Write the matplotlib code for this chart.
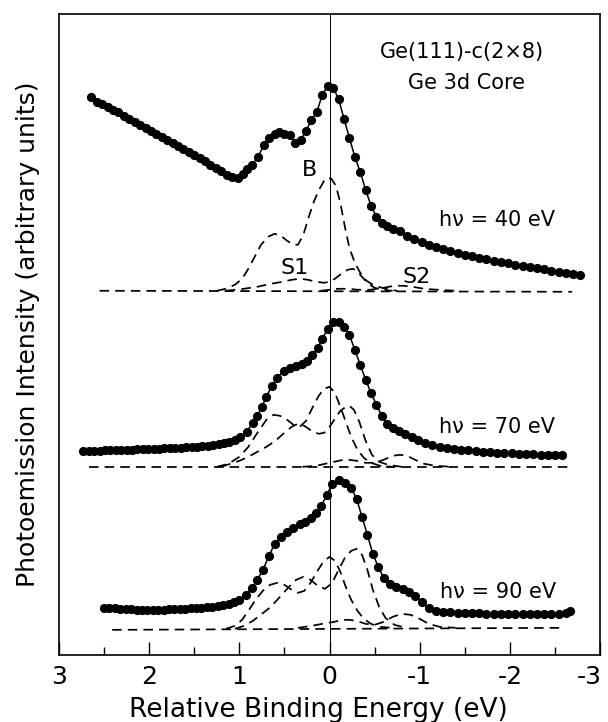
import matplotlib
matplotlib.use("Agg")
import matplotlib.pyplot as plt
import matplotlib.transforms as mtransforms
from matplotlib.ticker import MultipleLocator

plt.rcParams["font.family"] = ["DejaVu Sans"]

# measured spectra (binding energy in eV, intensity in arbitrary units)
x40 = [2.64, 2.58, 2.52, 2.46, 2.40, 2.34, 2.28, 2.22, 2.16, 2.10, 2.04, 1.98, 1.92, 1.86,
       1.80, 1.74, 1.68, 1.62, 1.56, 1.50, 1.44, 1.38, 1.32, 1.26, 1.20, 1.14, 1.08,
       1.02, 0.96, 0.91, 0.86, 0.79, 0.73, 0.67, 0.61, 0.56, 0.50, 0.44, 0.38, 0.32,
       0.26, 0.20, 0.14, 0.08, 0.02,
       -0.04, -0.10, -0.16, -0.22, -0.28, -0.34, -0.40, -0.46, -0.52, -0.58, -0.64, -0.70,
       -0.78, -0.86, -0.94, -1.02, -1.10, -1.18, -1.26, -1.34, -1.42, -1.50, -1.58, -1.66,
       -1.74, -1.82, -1.90, -1.98, -2.06, -2.14, -2.22, -2.30, -2.38, -2.46, -2.54, -2.62,
       -2.70, -2.78]
y40 = [558, 553, 551, 548, 545, 543, 539, 536, 533, 530, 527, 524, 521, 518,
       515, 512, 509, 506, 503, 500, 497, 494, 490, 487, 484, 480, 478,
       477, 481, 486, 490, 498, 510, 517, 521, 523, 521, 520, 512, 515,
       524, 535, 543, 560, 569,
       567, 556, 536, 517, 498, 483, 465, 449, 438, 432, 429, 426,
       424, 419, 416, 413, 410, 408, 406, 404, 402, 400, 399, 397,
       396, 394, 393, 392, 390, 389, 388, 387, 386, 384, 383, 382,
       381, 380]

x70 = [2.73, 2.67, 2.61, 2.55, 2.49, 2.43, 2.37, 2.31, 2.25, 2.19, 2.13, 2.07, 2.01, 1.95,
       1.89, 1.83, 1.77, 1.71, 1.65, 1.59, 1.53, 1.47, 1.41, 1.35, 1.29, 1.23, 1.17, 1.11,
       1.05, 0.99,
       0.92, 0.85, 0.80, 0.75, 0.70, 0.64, 0.58, 0.51, 0.44, 0.37, 0.31, 0.25, 0.19,
       0.13, 0.08, 0.02,
       -0.04, -0.10, -0.16, -0.22, -0.28, -0.34, -0.40, -0.46, -0.52, -0.58, -0.64, -0.70,
       -0.77, -0.84, -0.91, -0.98,
       -1.06, -1.14, -1.22, -1.30, -1.38, -1.46, -1.54, -1.62, -1.70, -1.78, -1.86, -1.94,
       -2.02, -2.10, -2.18, -2.26, -2.34, -2.42, -2.50, -2.58]
y70 = [204, 204, 204, 204, 205, 205, 205, 205, 205, 205, 206, 206, 206, 206,
       206, 207, 207, 207, 207, 208, 208, 208, 209, 209, 210, 211, 212, 213,
       215, 218,
       223, 232, 239, 248, 258, 269, 277, 284, 287, 289, 291, 294, 300,
       307, 316, 326,
       333, 333, 328, 320, 305, 290, 275, 262, 250, 239, 231, 227,
       224, 221, 218, 215,
       212, 210, 208, 207, 206, 205, 205, 204, 203, 203, 202, 202,
       202, 201, 201, 201, 200, 200, 200, 200]

x90 = [2.50, 2.44, 2.38, 2.32, 2.26, 2.20, 2.14, 2.08, 2.02, 1.96, 1.90, 1.84, 1.78,
       1.72, 1.66, 1.60, 1.54, 1.48, 1.42, 1.36, 1.30, 1.24, 1.18, 1.12, 1.06, 1.00,
       0.93, 0.86, 0.80, 0.74, 0.67, 0.61, 0.54, 0.47, 0.40, 0.33, 0.27, 0.21, 0.15,
       0.09, 0.03,
       -0.03, -0.10, -0.17, -0.24, -0.30, -0.36, -0.42, -0.48, -0.54, -0.60, -0.67,
       -0.74, -0.81, -0.88, -0.95, -1.02,
       -1.10, -1.18, -1.26, -1.34, -1.42, -1.50, -1.58, -1.66, -1.74, -1.82, -1.90,
       -1.98, -2.06, -2.14, -2.22, -2.30, -2.38, -2.46, -2.54, -2.62, -2.67]
y90 = [47, 47, 47, 46, 46, 46, 45, 45, 45, 45, 45, 45, 46,
       46, 46, 46, 47, 47, 47, 48, 48, 49, 50, 51, 53, 55,
       60, 67, 75, 85, 99, 111, 118, 123, 127, 131, 133, 137, 142,
       149, 160,
       171, 175, 172, 167, 156, 138, 120, 101, 88, 77, 71,
       68, 66, 63, 59, 53,
       47, 44, 43, 43, 42, 42, 42, 42, 41, 41, 41,
       41, 41, 41, 41, 41, 41, 41, 41, 42, 44]

# fitted components (dashed)
base40_x = [2.55, -2.69]
base40_y = [364, 363]
b40_x = [1.25, 1.15, 1.05, 0.97, 0.90, 0.83, 0.76, 0.68, 0.61, 0.54, 0.47, 0.40, 0.35,
         0.29, 0.23, 0.17, 0.11, 0.06, 0.02, -0.02, -0.07, -0.12, -0.17, -0.22, -0.28,
         -0.34, -0.41, -0.50, -0.62, -0.75]
b40_y = [364, 366, 370, 376, 386, 398, 410, 418, 421, 419, 414, 410, 410,
         420, 438, 454, 466, 474, 477, 476, 469, 452, 428, 407, 392,
         382, 374, 369, 366, 364]
s1_40_x = [1.15, 0.95, 0.80, 0.65, 0.52, 0.42, 0.33, 0.24, 0.15, 0.06, 0.00, -0.06, -0.13,
           -0.20, -0.26, -0.31, -0.37, -0.43, -0.50, -0.58, -0.70]
s1_40_y = [364, 366, 368, 371, 373, 375, 376, 375, 373, 372, 373, 376, 381,
           385, 386, 383, 377, 371, 367, 365, 364]
s2_40_x = [0.10, -0.10, -0.20, -0.32, -0.45, -0.60, -0.72, -0.82, -0.92, -1.05, -1.20, -1.40]
s2_40_y = [364, 366, 366, 365, 365, 367, 369, 369, 368, 366, 365, 364]

base70_x = [2.67, -2.69]
base70_y = [188, 188]
b70_x = [1.25, 1.12, 1.00, 0.90, 0.80, 0.70, 0.62, 0.55, 0.47, 0.40, 0.33, 0.26, 0.19,
         0.12, 0.06, 0.00, -0.06, -0.12, -0.18, -0.24, -0.31, -0.38, -0.46, -0.56, -0.70]
b70_y = [188, 191, 198, 208, 222, 235, 240, 239, 235, 230, 228, 234, 247,
         259, 266, 268, 262, 248, 233, 218, 205, 197, 192, 189, 188]
s1_70_x = [1.20, 1.10, 1.00, 0.90, 0.80, 0.70, 0.60, 0.50, 0.42, 0.35, 0.28, 0.20, 0.12,
           0.06, 0.00, -0.06, -0.12, -0.18, -0.22, -0.27, -0.33, -0.40, -0.47, -0.55,
           -0.65, -0.80]
s1_70_y = [188, 191, 194, 198, 203, 208, 214, 222, 228, 231, 229, 224, 221,
           222, 228, 236, 244, 248, 249, 245, 233, 214, 200, 193,
           190, 188]
s2_70_x = [0.30, 0.15, 0.05, -0.05, -0.15, -0.22, -0.30, -0.40, -0.50, -0.60, -0.70, -0.78,
           -0.86, -0.95, -1.05, -1.18, -1.35]
s2_70_y = [188, 189, 191, 193, 195, 195, 194, 192, 192, 195, 199, 200,
           199, 195, 191, 189, 188]

base90_x = [2.41, -2.57]
base90_y = [25, 27]
b90_x = [1.15, 1.05, 0.97, 0.90, 0.82, 0.74, 0.66, 0.58, 0.50, 0.42, 0.35, 0.28, 0.21,
         0.14, 0.07, 0.00, -0.06, -0.12, -0.18, -0.24, -0.31, -0.38, -0.46, -0.56, -0.70]
b90_y = [26, 29, 35, 44, 55, 64, 70, 72, 70, 65, 62, 64, 72,
         83, 93, 98, 94, 83, 68, 55, 44, 36, 31, 28, 27]
s1_90_x = [1.05, 0.95, 0.85, 0.75, 0.65, 0.55, 0.45, 0.37, 0.29, 0.21, 0.13, 0.05, -0.03,
           -0.10, -0.17, -0.24, -0.30, -0.36, -0.42, -0.48, -0.55, -0.62, -0.72, -0.85]
s1_90_y = [26, 29, 34, 41, 48, 58, 68, 75, 78, 75, 69, 66, 72,
           85, 97, 104, 106, 100, 85, 65, 48, 37, 30, 27]
s2_90_x = [0.35, 0.20, 0.08, -0.05, -0.15, -0.22, -0.30, -0.40, -0.50, -0.60, -0.70, -0.80,
           -0.90, -1.00, -1.10, -1.22, -1.40]
s2_90_y = [27, 29, 31, 33, 35, 35, 34, 31, 30, 33, 38, 41,
           40, 36, 31, 28, 27]

tick_pos = [-3, -2, -1, 0, 1, 2, 3]
tick_lbl = ["-3", "-2", "-1", "0", "1", "2", "3"]

spectra = [(x40, y40), (x70, y70), (x90, y90)]
components = [
    (base40_x, base40_y), (b40_x, b40_y), (s1_40_x, s1_40_y), (s2_40_x, s2_40_y),
    (base70_x, base70_y), (b70_x, b70_y), (s1_70_x, s1_70_y), (s2_70_x, s2_70_y),
    (base90_x, base90_y), (b90_x, b90_y), (s1_90_x, s1_90_y), (s2_90_x, s2_90_y),
]

fig = plt.figure(figsize=(6.08, 7.22), dpi=100)
ax = fig.add_axes([0.097, 0.093, 0.890, 0.888])

for xs, ys in components:
    ax.plot(xs, ys, color="black", lw=1.25, linestyle=(0, (5.5, 3.5)))

for xs, ys in spectra:
    ax.plot(xs, ys, color="black", lw=1.1, marker="o", markersize=5.6)

ax.axvline(0, color="black", lw=0.7)

ax.set_xlim(3, -3)
ax.set_ylim(0, 641)
ax.set_yticks([])
ax.set_xticks(tick_pos)
ax.set_xticklabels(tick_lbl)
ax.xaxis.set_minor_locator(MultipleLocator(0.5))
ax.tick_params(axis="x", which="major", direction="in", length=9.5, width=1.0,
               labelsize=18, pad=7)
ax.tick_params(axis="x", which="minor", direction="in", length=5.5, width=1.0)
for s in ax.spines.values():
    s.set_linewidth(1.2)

# keep the right-most label inside the figure
last = ax.get_xticklabels()[0]
last.set_horizontalalignment("right")
last.set_transform(last.get_transform() + mtransforms.ScaledTranslation(
    1.5 / 72, 0, fig.dpi_scale_trans))

ax.set_xlabel("Relative Binding Energy (eV)", fontsize=19)
ax.xaxis.set_label_coords(0.48, -0.066)
ax.set_ylabel("Photoemission Intensity (arbitrary units)", fontsize=18)
ax.yaxis.set_label_coords(-0.035, 0.5)

ax.text(-1.47, 603, "Ge(111)-c(2\u00d78)", fontsize=15, ha="center", va="center")
ax.text(-1.52, 572, "Ge 3d Core", fontsize=15, ha="center", va="center")
ax.text(-1.86, 435, "h\u03bd = 40 eV", fontsize=15, ha="center", va="center")
ax.text(-1.86, 228, "h\u03bd = 70 eV", fontsize=15, ha="center", va="center")
ax.text(-1.87, 63, "h\u03bd = 90 eV", fontsize=15, ha="center", va="center")
ax.text(0.22, 485, "B", fontsize=16, ha="center", va="center")
ax.text(0.39, 387, "S1", fontsize=16, ha="center", va="center")
ax.text(-0.97, 378, "S2", fontsize=16, ha="center", va="center")

fig.savefig("out.png", dpi=100)
